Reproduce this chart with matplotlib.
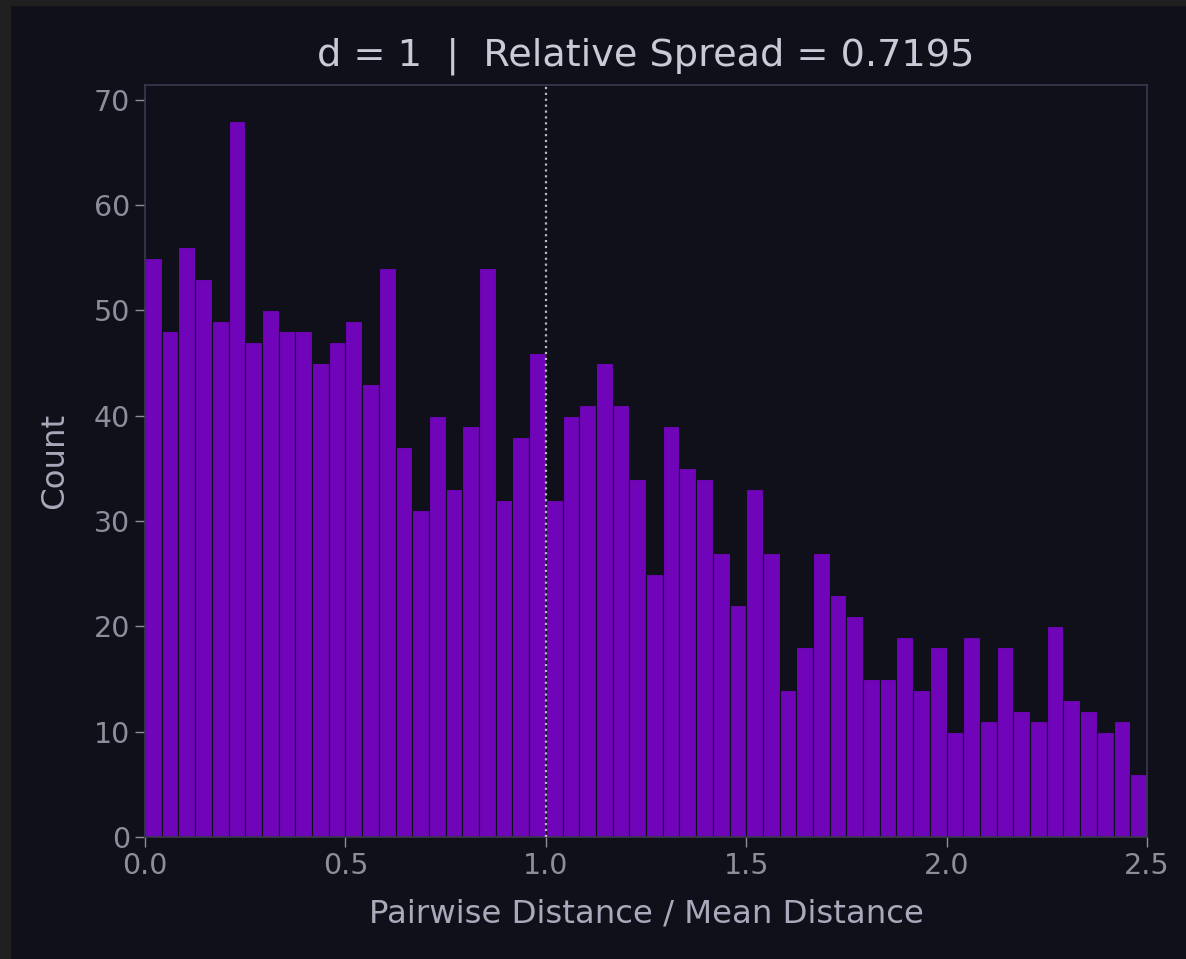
import numpy as np
import matplotlib
matplotlib.use("Agg")
import matplotlib.pyplot as plt
from matplotlib.patches import Rectangle

# histogram of pairwise distance / mean distance, 60 bins on [0, 2.5]
bin_lo, bin_hi, n_bins = 0.0, 2.5, 60
counts = [
    55, 48, 56, 53, 49, 68, 47, 50, 48, 48, 45, 47, 49, 43, 54, 37, 31, 40, 33, 39,
    54, 32, 38, 46, 32, 40, 41, 45, 41, 34, 25, 39, 35, 34, 27, 22, 33, 27, 14, 18,
    27, 23, 21, 15, 15, 19, 14, 18, 10, 19, 11, 18, 12, 11, 20, 13, 12, 10, 11, 6,
]
mean_ref = 1.0
title = "d = 1  |  Relative Spread = 0.7195"

bg = "#0f1019"
plt.rcParams["font.family"] = ["DejaVu Sans"]

fig = plt.figure(figsize=(11.86, 9.59), dpi=100, facecolor=bg)
ax = fig.add_axes([0.1223, 0.1272, 0.8448, 0.7842], facecolor=bg)

edges = np.linspace(bin_lo, bin_hi, n_bins + 1)
ax.bar(edges[:-1], counts, width=np.diff(edges), align="edge",
       color="#7004b8", edgecolor=bg, linewidth=0.8)
ax.axvline(mean_ref, color="#b8b8c8", linestyle=":", linewidth=1.6, zorder=5)

ax.set_xlim(bin_lo, bin_hi)
ax.set_ylim(0, max(counts) * 1.05)
ax.set_xticks([0.0, 0.5, 1.0, 1.5, 2.0, 2.5])
ax.set_yticks(range(0, 71, 10))

for s in ax.spines.values():
    s.set_color("#3a3b50")
    s.set_linewidth(1.2)
ax.tick_params(colors="#8c8e9c", labelsize=20.5, length=7, width=1, pad=4)

ax.set_title(title, color="#c8cad8", fontsize=27.5, pad=14)
ax.set_xlabel("Pairwise Distance / Mean Distance", color="#a8aabb", fontsize=23.3, labelpad=13)
ax.set_ylabel("Count", color="#a8aabb", fontsize=23.3, labelpad=17)

# screenshot frame strips (left and top)
fig.patches.append(Rectangle((0, 0), 10 / 1186, 1, transform=fig.transFigure,
                             color="#202020", zorder=-1))
fig.patches.append(Rectangle((0, 1 - 5 / 959), 1, 5 / 959, transform=fig.transFigure,
                             color="#202020", zorder=-1))

fig.savefig("out.png", dpi=100, facecolor=bg)
